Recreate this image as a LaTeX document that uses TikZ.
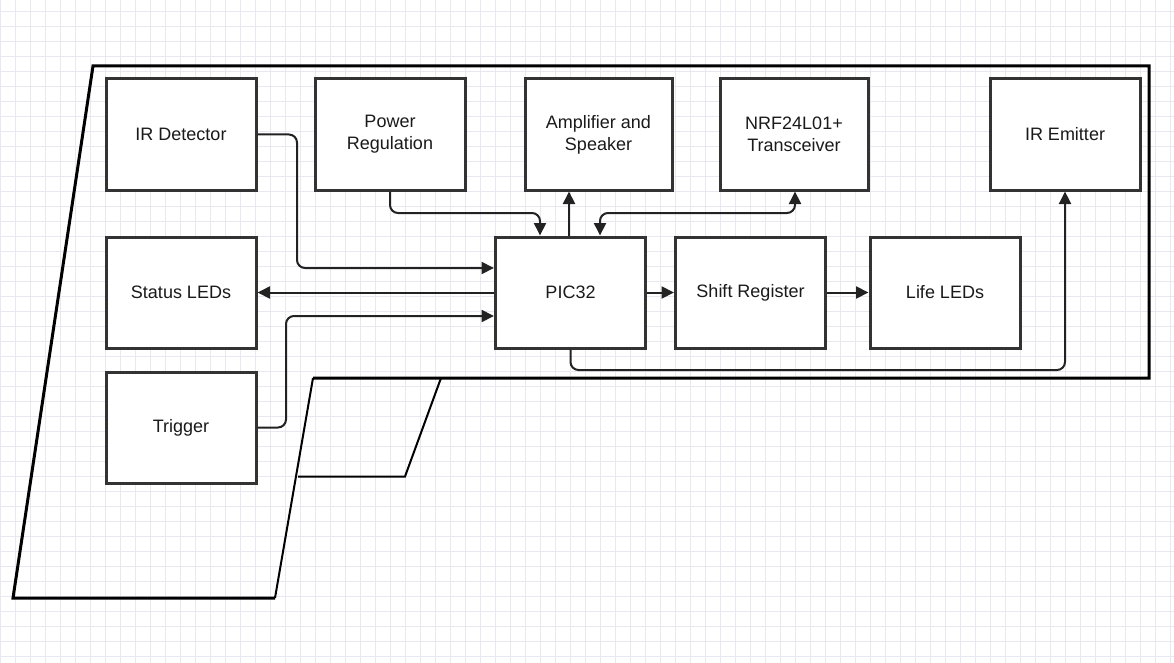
\documentclass[tikz,border=0pt]{standalone}
\usepackage{fontspec}
\setmainfont{Liberation Sans}
\usetikzlibrary{arrows.meta}
\definecolor{gridc}{HTML}{E8E8F1}
\definecolor{boxc}{HTML}{333333}
\definecolor{linec}{HTML}{222222}
\definecolor{txtc}{HTML}{1A1A1A}
\begin{document}
\begin{tikzpicture}[x=1pt,y=-1pt,
  blk/.style={draw=boxc, line width=3pt, fill=white, minimum width=150pt,
    minimum height=111pt, inner sep=0pt, align=center,
    font=\fontsize{18}{22}\selectfont, text=txtc},
  conn/.style={draw=linec, line width=2pt, rounded corners=8pt,
    -{Triangle[length=12.5pt,width=12pt]}},
  conn2/.style={draw=linec, line width=2pt, rounded corners=8pt,
    {Triangle[length=12.5pt,width=12pt]}-{Triangle[length=12.5pt,width=12pt]}},
  gridl/.style={draw=gridc, line width=0.8pt},
  outl/.style={draw=black, line width=3pt, line join=miter},
  outthin/.style={draw=black, line width=2pt}
  ]
\useasboundingbox (0,0) rectangle (1174,663);
\fill[white] (0,0) rectangle (1174,663);
\foreach \x in {0,15,...,1170} \draw[gridl] (\x,0) -- (\x,663);
\foreach \y in {11.7,26.7,...,660} \draw[gridl] (0,\y) -- (1174,\y);

% gun outline
\draw[outl] (313,378) -- (1149,378) -- (1149,66) -- (93,66) -- (13,598) -- (275,598);
\draw[outthin] (275,598) -- (313,378);
\draw[outthin] (441,378) -- (405,476.5) -- (298,476.5);

% blocks
\node[blk] (ird) at (181,134.5) {IR Detector};
\node[blk] (pwr) at (390,134.5) {Power\\Regulation};
\node[blk, minimum width=147pt] (amp) at (598.5,134.5) {Amplifier and\\Speaker};
\node[blk, minimum width=148pt] (nrf) at (794,134.5) {NRF24L01+\\Transceiver};
\node[blk] (ire) at (1065,134.5) {IR Emitter};
\node[blk] (stat) at (181,292.5) {Status LEDs};
\node[blk] (pic) at (570.5,292.5) {PIC32};
\node[blk] (shift) at (750.5,292.5) {Shift Register};
\node[blk] (life) at (945,292.5) {Life LEDs};
\node[blk] (trig) at (181,427.5) {Trigger};

% connectors
\draw[conn] (ird.east) -- (297,134.5) -- (297,268) -- (pic.west |- 0,268);
\draw[conn] (pic.west) -- (stat.east);
\draw[conn] (trig.east) -- (286,427.5) -- (286,316) -- (pic.west |- 0,316);
\draw[conn] (pwr.south) -- (390,213) -- (540,213) -- (pic.north -| 540,0);
\draw[conn] (pic.north -| 569,0) -- (amp.south -| 569,0);
\draw[conn2] (pic.north -| 600,0) -- (600,213) -- (795,213) -- (nrf.south -| 795,0);
\draw[conn] (pic.east) -- (shift.west);
\draw[conn] (shift.east) -- (life.west);
\draw[conn] (pic.south) -- (570.5,370) -- (1065,370) -- (ire.south);
\end{tikzpicture}
\end{document}
